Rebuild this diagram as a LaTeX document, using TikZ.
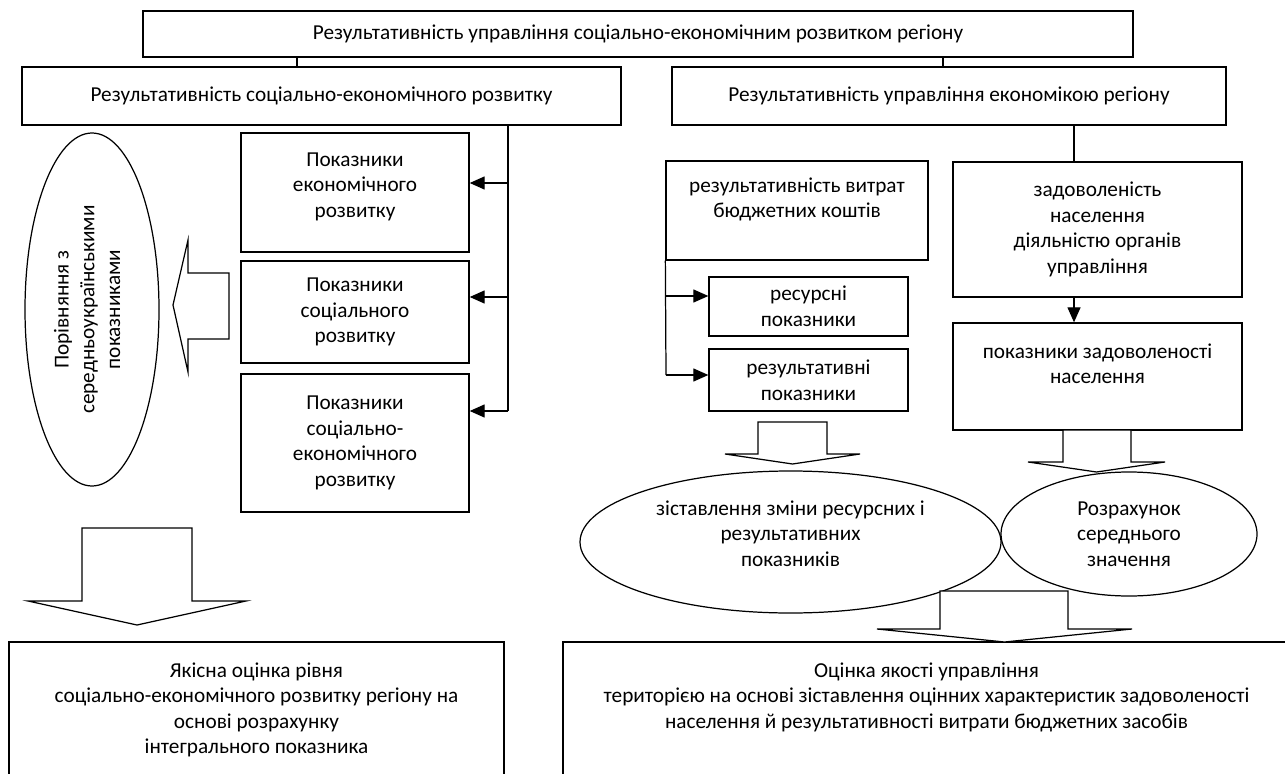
\documentclass[tikz,border=0pt]{standalone}
\usepackage{fontspec}
\setmainfont{Carlito}
\usetikzlibrary{shapes.geometric,arrows.meta}
\begin{document}
\begin{tikzpicture}[
				every node/.style={align=center, inner sep=1pt, font=\fontsize{12.1}{14.6}\selectfont},
				box/.style={draw, rectangle, line width=0.75pt},
				oval/.style={draw, ellipse, line width=0.7pt, inner sep=0},
				block/.style={draw, fill=white, line width=0.7pt},
				arr/.style={-{Triangle[length=0.3cm, width=0.26cm]}},
				line width=0.7pt
			]
			\useasboundingbox (0,0) rectangle (25.7,-15.48);
			% upper level
			\node[box, minimum width=19.8cm, minimum height=0.92cm] (top) at (12.76,-0.68) {Результативність управління соціально-економічним розвитком регіону};
			\node[box, minimum width=11.98cm, minimum height=1.16cm] (socdev) at (6.43,-1.92) {Результативність соціально-економічного розвитку};
			\node[box, minimum width=11.08cm, minimum height=1.16cm] (econgov) at (18.98,-1.92) {Результативність управління економікою регіону};
			% left branch
			\node[box, minimum width=4.56cm, minimum height=2.38cm] (econInd) at (7.10,-3.85) {Показники\\економічного\\розвитку\\[-6pt]~};
			\node[box, minimum width=4.56cm, minimum height=2.04cm] (socInd) at (7.10,-6.24) {Показники\\соціального\\розвитку};
			\node[box, minimum width=4.56cm, minimum height=2.76cm] (soceconInd) at (7.10,-8.86) {Показники\\соціально-\\економічного\\розвитку};
			\node[oval, rotate=90, minimum width=7.06cm, minimum height=2.68cm] (compare) at (1.84,-6.19) {Порівняння з\\середньоукраїнськими\\показниками\\[-9pt]~};
			\node[box, minimum width=9.9cm, minimum height=3.16cm] (qualEst) at (5.13,-14.42) {Якісна оцінка рівня\\соціально-економічного розвитку регіону на\\основі розрахунку\\інтегрального показника\\~};
			% right branch
			\node[box, minimum width=5.24cm, minimum height=1.98cm] (budget) at (15.94,-4.21) {результативність витрат\\бюджетних коштів\\~};
			\node[box, minimum width=3.98cm, minimum height=1.18cm] (resInd) at (16.17,-6.13) {ресурсні\\показники};
			\node[box, minimum width=3.98cm, minimum height=1.24cm] (outInd) at (16.17,-7.60) {результативні\\показники};
			\node[box, minimum width=5.78cm, minimum height=2.7cm] (satisf) at (21.95,-4.59) {задоволеність\\населення\\діяльністю органів\\управління};
			\node[box, minimum width=5.78cm, minimum height=2.14cm] (satInd) at (21.95,-7.53) {показники задоволеності\\населення\\~};
			\node[oval, minimum width=8.42cm, minimum height=2.84cm] (compEll) at (15.81,-10.84) {зіставлення зміни ресурсних і\\результативних\\показників\\[-5pt]~};
			\node[oval, minimum width=5.12cm, minimum height=2.48cm] (meanEll) at (22.58,-10.68) {Розрахунок\\середнього\\значення};
			\node[box, minimum width=14.54cm, minimum height=3.16cm] (mgmtEst) at (18.53,-14.42) {Оцінка якості управління\\територією на основі зіставлення оцінних характеристик задоволеності\\населення й результативності витрати бюджетних засобів\\~\\~};
			% connectors
			\coordinate (tL) at (5.94,0);
			\coordinate (tR) at (18.86,0);
			\draw (top.south -| tL) -- (socdev.north -| tL);
			\draw (top.south -| tR) -- (econgov.north -| tR);
			\coordinate (sA) at (10.16,-3.66);
			\coordinate (sB) at (10.16,-5.94);
			\coordinate (sC) at (10.16,-8.22);
			\draw (socdev.south -| sA) -- (sC);
			\draw[arr] (sA) -- (sA -| econInd.east);
			\draw[arr] (sB) -- (sB -| socInd.east);
			\draw[arr] (sC) -- (sC -| soceconInd.east);
			\coordinate (bA) at (13.32,-5.92);
			\coordinate (bB) at (13.32,-7.50);
			\draw (budget.south west) -- (bB);
			\draw[arr] (bA) -- (bA -| resInd.west);
			\draw[arr] (bB) -- (bB -| outInd.west);
			\coordinate (rX) at (21.48,0);
			\draw (econgov.south -| rX) -- (satisf.north -| rX);
			\draw[arr] (satisf.south -| rX) -- (satInd.north -| rX);
			% block arrows
			\draw[block] (3.46,-6.10) -- (3.76,-4.80) -- (3.76,-5.46) -- (4.58,-5.46) -- (4.58,-6.78) -- (3.76,-6.78) -- (3.76,-7.44) -- cycle;
			\draw[block] (1.64,-10.56) -- (3.84,-10.56) -- (3.84,-12.02) -- (4.92,-12.02) -- (2.74,-12.50) -- (0.56,-12.02) -- (1.64,-12.02) -- cycle;
			\draw[block] (15.16,-8.44) -- (16.54,-8.44) -- (16.54,-9.08) -- (17.20,-9.08) -- (15.85,-9.28) -- (14.50,-9.08) -- (15.16,-9.08) -- cycle;
			\draw[block] (21.26,-8.60) -- (22.62,-8.60) -- (22.62,-9.24) -- (23.30,-9.24) -- (21.93,-9.44) -- (20.56,-9.24) -- (21.26,-9.24) -- cycle;
			\draw[block] (18.80,-11.82) -- (21.36,-11.82) -- (21.36,-12.58) -- (22.64,-12.58) -- (20.09,-12.84) -- (17.54,-12.58) -- (18.80,-12.58) -- cycle;
			\end{tikzpicture}
\end{document}
